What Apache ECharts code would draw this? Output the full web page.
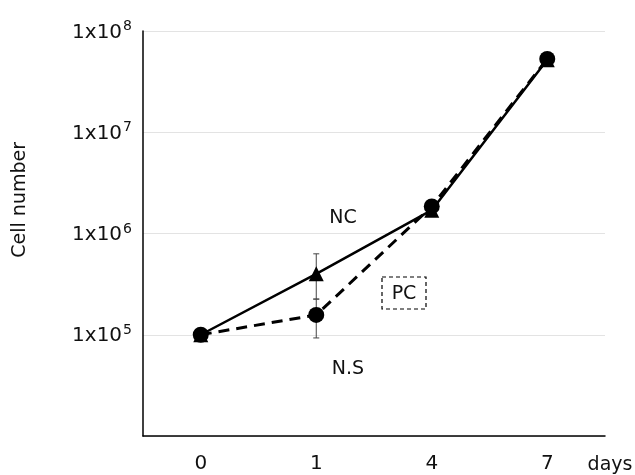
<!DOCTYPE html>
<html>
<head>
<meta charset="utf-8">
<script src="https://cdn.jsdelivr.net/npm/echarts@6/dist/echarts.min.js"></script>
<style>html,body{margin:0;padding:0;background:#fff}#c{width:635px;height:475px}</style>
</head>
<body>
<div id="c"></div>
<script>
var days = ['0', '1', '4', '7'];
var ncValues = [1.0e5, 4.0e5, 1.7e6, 5.2e7];
var pcValues = [1.0e5, 1.57e5, 1.85e6, 5.3e7];
var errDayIndex = [1, 1];
var errLow = [2.25e5, 9.3e4];
var errHigh = [6.3e5, 2.25e5];
var yTickExponents = [5, 6, 7, 8];

var FONT = 'DejaVu Sans';
var chart = echarts.init(document.getElementById('c'), null, {renderer: 'canvas'});

var errData = errDayIndex.map(function (d, i) { return [d, errLow[i], errHigh[i]]; });

chart.setOption({
  animation: false,
  backgroundColor: '#fff',
  grid: {left: 143, right: 30, top: 31, bottom: 39},
  xAxis: {
    type: 'category',
    data: days,
    boundaryGap: true,
    axisLine: {lineStyle: {color: '#000', width: 1.5}},
    axisTick: {show: false},
    axisLabel: {color: '#111', fontFamily: FONT, fontSize: 20, margin: 18},
    splitLine: {show: false}
  },
  yAxis: {
    type: 'log',
    logBase: 10,
    min: 1e4,
    max: 1e8,
    axisLine: {show: true, lineStyle: {color: '#000', width: 1.5}},
    axisTick: {show: false},
    splitLine: {show: true, lineStyle: {color: '#e3e3e3', width: 1}},
    axisLabel: {
      margin: 11,
      formatter: function (v) {
        var e = Math.round(Math.log10(v));
        if (yTickExponents.indexOf(e) < 0) return '';
        return '{a|1x10}{b|' + e + '}';
      },
      rich: {
        a: {fontFamily: FONT, fontSize: 20, color: '#111', verticalAlign: 'bottom'},
        b: {fontFamily: FONT, fontSize: 14, color: '#111', verticalAlign: 'bottom', padding: [0, 0, 9, 1]}
      }
    }
  },
  series: [
    {
      name: 'NC',
      type: 'line',
      data: ncValues,
      symbol: 'triangle',
      symbolSize: 15,
      lineStyle: {color: '#000', width: 2.5},
      itemStyle: {color: '#000'},
      z: 3
    },
    {
      name: 'PC',
      type: 'line',
      data: pcValues,
      symbol: 'circle',
      symbolSize: 16,
      lineStyle: {color: '#000', width: 3, type: [11, 7]},
      itemStyle: {color: '#000'},
      z: 4
    },
    {
      name: 'err',
      type: 'custom',
      z: 2,
      data: errData,
      renderItem: function (params, api) {
        var x = api.value(0);
        var lo = api.coord([x, api.value(1)]);
        var hi = api.coord([x, api.value(2)]);
        var hw = 3;
        var st = {stroke: '#444', lineWidth: 1};
        return {
          type: 'group',
          children: [
            {type: 'line', shape: {x1: lo[0], y1: lo[1], x2: hi[0], y2: hi[1]}, style: st},
            {type: 'line', shape: {x1: lo[0] - hw, y1: lo[1], x2: lo[0] + hw, y2: lo[1]}, style: st},
            {type: 'line', shape: {x1: hi[0] - hw, y1: hi[1], x2: hi[0] + hw, y2: hi[1]}, style: st}
          ]
        };
      }
    }
  ],
  graphic: [
    {type: 'text', left: 11, top: 142, rotation: Math.PI / 2, style: {text: 'Cell number', font: '19px "DejaVu Sans"', fill: '#111'}, originX: 0, originY: 0},
    {type: 'text', x: 343, y: 218, style: {text: 'NC', font: '19px "DejaVu Sans"', fill: '#111', textAlign: 'center', textVerticalAlign: 'middle'}},
    {type: 'text', x: 348, y: 369, style: {text: 'N.S', font: '19px "DejaVu Sans"', fill: '#111', textAlign: 'center', textVerticalAlign: 'middle'}},
    {type: 'rect', shape: {x: 382, y: 277, width: 44, height: 32}, style: {fill: 'none', stroke: '#000', lineWidth: 1.2, lineDash: [4, 3]}},
    {type: 'text', x: 404, y: 294, style: {text: 'PC', font: '19px "DejaVu Sans"', fill: '#111', textAlign: 'center', textVerticalAlign: 'middle'}},
    {type: 'text', x: 610, y: 465, style: {text: 'days', font: '19px "DejaVu Sans"', fill: '#111', textAlign: 'center', textVerticalAlign: 'middle'}}
  ]
});
</script>
</body>
</html>
